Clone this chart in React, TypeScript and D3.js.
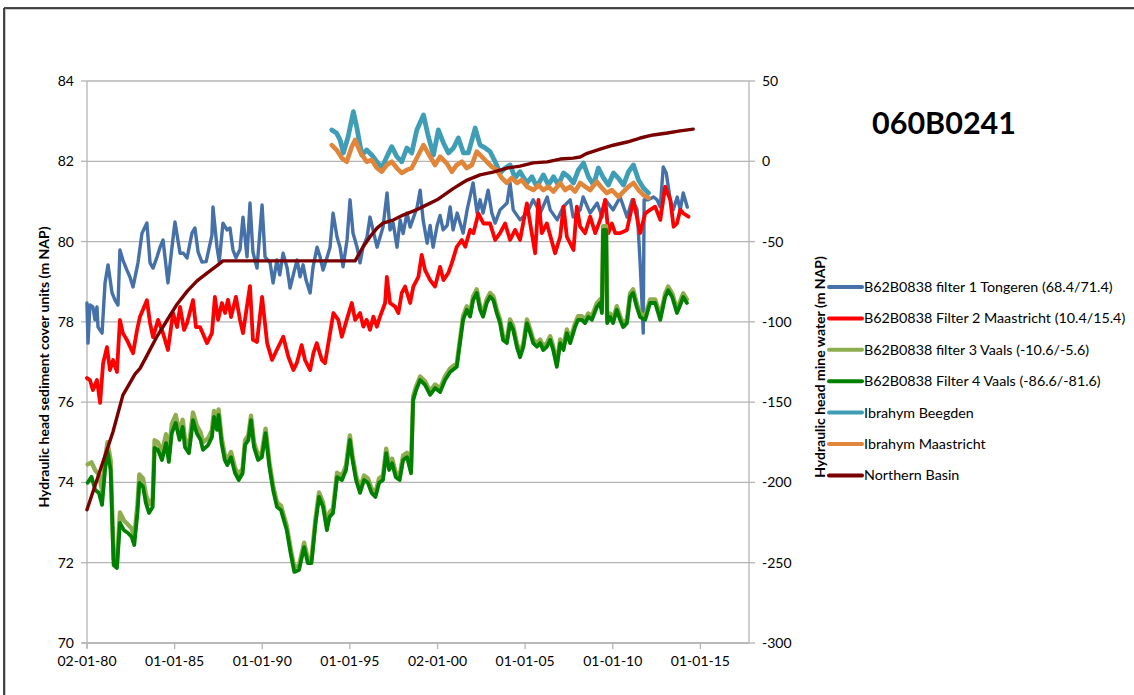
import React from "react";
import * as d3 from "d3";

// ---------- data (decimal year, value) ----------
const xTickDates = ["1980-01-02", "1985-01-01", "1990-01-01", "1995-01-01", "2000-01-02", "2005-01-01", "2010-01-01", "2015-01-01"];
const xTickLabels = ["02-01-80", "01-01-85", "01-01-90", "01-01-95", "02-01-00", "01-01-05", "01-01-10", "01-01-15"];
const leftTicks = [70, 72, 74, 76, 78, 80, 82, 84];
const rightTicks = [-300, -250, -200, -150, -100, -50, 0, 50];

const seriesNames = [
  "B62B0838 filter 1 Tongeren (68.4/71.4)",
  "B62B0838 Filter 2 Maastricht (10.4/15.4)",
  "B62B0838 filter 3 Vaals (-10.6/-5.6)",
  "B62B0838 Filter 4 Vaals (-86.6/-81.6)",
  "Ibrahym Beegden",
  "Ibrahym Maastricht",
  "Northern Basin",
];

const filter1: [number, number][] = [
  [1980.0, 78.47], [1980.06, 77.47], [1980.17, 78.42], [1980.34, 78.37], [1980.46, 78.05], [1980.57, 78.37], [1980.63, 77.87], [1980.86, 77.72],
  [1981.03, 78.97], [1981.2, 79.42], [1981.43, 78.72], [1981.6, 78.54], [1981.77, 78.42], [1981.88, 79.79], [1982.05, 79.54], [1982.28, 79.29],
  [1982.45, 79.12], [1982.63, 78.87], [1982.91, 79.47], [1983.14, 80.21], [1983.42, 80.46], [1983.6, 79.47], [1983.77, 79.34], [1984.0, 79.62],
  [1984.17, 79.86], [1984.34, 80.04], [1984.62, 78.97], [1984.85, 79.86], [1985.02, 80.49], [1985.31, 79.71], [1985.5, 79.71], [1985.71, 79.59],
  [1985.99, 80.21], [1986.16, 80.34], [1986.34, 79.74], [1986.56, 79.49], [1986.8, 79.5], [1987.13, 80.16], [1987.19, 80.86], [1987.42, 79.86],
  [1987.55, 79.5], [1987.76, 80.46], [1987.99, 80.29], [1988.16, 80.34], [1988.33, 79.79], [1988.5, 79.6], [1988.73, 79.8], [1988.9, 80.61],
  [1989.13, 79.62], [1989.3, 80.96], [1989.47, 79.74], [1989.7, 79.34], [1989.99, 80.91], [1990.16, 79.62], [1990.45, 79.47], [1990.62, 78.97],
  [1990.84, 79.54], [1991.0, 79.17], [1991.19, 79.71], [1991.42, 79.34], [1991.59, 78.84], [1991.8, 79.22], [1991.99, 79.54], [1992.16, 79.12],
  [1992.33, 79.42], [1992.5, 79.04], [1992.73, 78.72], [1992.9, 79.37], [1993.13, 79.86], [1993.3, 79.62], [1993.47, 79.29], [1993.65, 79.54],
  [1993.87, 79.86], [1994.04, 80.71], [1994.27, 80.11], [1994.44, 79.86], [1994.61, 79.37], [1994.84, 80.04], [1995.01, 81.04], [1995.18, 80.21],
  [1995.41, 79.86], [1995.58, 79.47], [1995.75, 79.86], [1995.98, 80.11], [1996.15, 80.61], [1996.32, 80.29], [1996.55, 79.86], [1996.72, 80.11],
  [1996.89, 80.36], [1997.12, 81.21], [1997.29, 80.29], [1997.47, 80.46], [1997.69, 79.86], [1997.87, 80.54], [1998.04, 80.2], [1998.26, 80.71],
  [1998.44, 80.36], [1998.84, 80.86], [1999.01, 81.28], [1999.18, 80.54], [1999.41, 79.96], [1999.58, 80.4], [1999.75, 79.86], [1999.98, 80.4],
  [2000.15, 80.65], [2000.32, 80.29], [2000.55, 80.4], [2000.72, 80.86], [2000.89, 80.29], [2001.12, 80.71], [2001.46, 80.21], [2001.69, 80.79],
  [2002.03, 81.46], [2002.26, 80.71], [2002.43, 81.04], [2002.6, 80.71], [2002.89, 81.28], [2003.1, 80.71], [2003.29, 80.46], [2003.57, 80.79],
  [2003.97, 80.96], [2004.14, 81.46], [2004.32, 80.79], [2004.71, 80.54], [2005.11, 80.71], [2005.46, 81.04], [2005.86, 80.71], [2006.26, 81.11],
  [2006.43, 80.79], [2006.83, 80.54], [2007.17, 80.86], [2007.57, 81.04], [2007.74, 80.61], [2008.14, 80.79], [2008.31, 81.11], [2008.71, 80.71],
  [2009.11, 80.96], [2009.39, 80.61], [2009.57, 81.04], [2010.02, 80.79], [2010.42, 81.11], [2010.82, 80.61], [2011.11, 81.04], [2011.39, 80.79],
  [2011.56, 79.49], [2011.68, 78.37], [2011.74, 77.72], [2011.79, 81.04], [2012.02, 81.04], [2012.33, 81.11], [2012.53, 81.04], [2012.71, 80.86],
  [2012.88, 81.86], [2013.05, 81.71], [2013.28, 81.04], [2013.45, 80.79], [2013.68, 81.11], [2013.85, 80.79], [2014.02, 81.21], [2014.25, 80.86],
];

const filter2: [number, number][] = [
  [1980.0, 76.6], [1980.17, 76.55], [1980.34, 76.3], [1980.57, 76.55], [1980.75, 75.98], [1980.92, 76.97], [1981.14, 77.37], [1981.31, 76.8],
  [1981.49, 77.05], [1981.71, 76.75], [1981.88, 78.05], [1982.05, 77.72], [1982.28, 77.55], [1982.63, 77.22], [1982.86, 77.8], [1983.02, 78.12],
  [1983.42, 78.54], [1983.6, 77.97], [1983.77, 77.62], [1984.06, 78.05], [1984.34, 77.72], [1984.62, 77.3], [1984.91, 78.22], [1985.14, 77.87],
  [1985.31, 78.37], [1985.54, 77.8], [1985.71, 77.97], [1986.05, 78.54], [1986.22, 77.87], [1986.45, 77.87], [1986.85, 77.47], [1987.13, 77.72],
  [1987.3, 78.62], [1987.48, 78.05], [1987.7, 78.47], [1987.88, 78.22], [1988.05, 78.55], [1988.22, 78.12], [1988.5, 78.62], [1988.73, 78.05],
  [1988.9, 77.72], [1989.3, 78.89], [1989.47, 77.55], [1989.7, 77.5], [1989.99, 78.62], [1990.28, 77.47], [1990.56, 77.05], [1990.83, 77.3],
  [1991.2, 77.63], [1991.49, 77.13], [1991.78, 76.8], [1991.97, 76.97], [1992.25, 77.42], [1992.44, 77.05], [1992.73, 76.8], [1992.92, 77.22],
  [1993.11, 77.47], [1993.4, 77.05], [1993.58, 76.97], [1993.87, 77.72], [1994.06, 78.22], [1994.34, 78.05], [1994.54, 77.63], [1994.82, 78.05],
  [1995.11, 78.47], [1995.3, 78.05], [1995.58, 78.22], [1995.77, 77.88], [1995.96, 78.05], [1996.15, 77.8], [1996.34, 78.13], [1996.54, 77.88],
  [1996.72, 78.13], [1997.01, 78.47], [1997.11, 79.12], [1997.29, 78.47], [1997.58, 78.38], [1997.77, 78.22], [1997.96, 78.72], [1998.15, 78.88],
  [1998.44, 78.47], [1998.62, 78.88], [1998.91, 79.12], [1999.1, 79.67], [1999.29, 79.29], [1999.58, 79.04], [1999.86, 78.88], [2000.15, 79.37],
  [2000.34, 79.04], [2000.62, 79.22], [2000.82, 79.47], [2001.1, 79.87], [2001.39, 80.04], [2001.58, 79.87], [2001.86, 80.29], [2002.05, 80.21],
  [2002.33, 80.7], [2002.62, 80.45], [2003.0, 80.45], [2003.29, 80.04], [2003.57, 80.21], [2003.86, 80.45], [2004.14, 80.04], [2004.43, 80.29],
  [2004.71, 80.04], [2005.1, 80.95], [2005.38, 80.21], [2005.57, 79.71], [2005.76, 81.04], [2005.95, 80.21], [2006.24, 80.45], [2006.71, 79.71],
  [2007.0, 80.12], [2007.19, 80.87], [2007.38, 80.12], [2007.76, 79.79], [2007.95, 80.87], [2008.14, 80.37], [2008.42, 80.21], [2008.71, 80.62],
  [2009.0, 80.21], [2009.28, 80.54], [2009.57, 81.04], [2009.75, 80.21], [2009.95, 80.45], [2010.14, 80.21], [2010.42, 80.21], [2010.81, 80.29],
  [2011.18, 81.04], [2011.37, 80.62], [2011.56, 80.21], [2011.85, 80.7], [2012.13, 80.79], [2012.42, 80.87], [2012.71, 80.54], [2012.99, 81.37],
  [2013.28, 81.04], [2013.47, 80.37], [2013.66, 80.45], [2013.85, 80.79], [2014.04, 80.7], [2014.32, 80.62],
];

const filter3: [number, number][] = [
  [1980.04, 74.45], [1980.26, 74.5], [1980.47, 74.3], [1980.68, 74.2], [1980.86, 73.8], [1981.03, 74.6], [1981.17, 75.0], [1981.35, 74.55],
  [1981.52, 72.1], [1981.71, 72.0], [1981.88, 73.25], [1982.11, 73.05], [1982.34, 72.95], [1982.55, 72.85], [1982.7, 72.65], [1982.88, 73.45],
  [1982.99, 74.2], [1983.2, 74.1], [1983.36, 73.7], [1983.54, 73.45], [1983.75, 73.6], [1983.86, 75.05], [1984.05, 75.0], [1984.28, 74.75],
  [1984.51, 75.2], [1984.67, 74.7], [1984.84, 75.45], [1985.06, 75.68], [1985.28, 75.25], [1985.46, 75.56], [1985.59, 75.08], [1985.82, 74.92],
  [1986.05, 75.74], [1986.26, 75.42], [1986.48, 75.25], [1986.62, 75.0], [1986.91, 75.1], [1987.13, 75.3], [1987.25, 75.78], [1987.42, 75.46],
  [1987.51, 75.82], [1987.68, 75.12], [1987.86, 74.7], [1988.01, 74.56], [1988.22, 74.76], [1988.45, 74.36], [1988.66, 74.18], [1988.88, 74.35],
  [1989.02, 75.05], [1989.21, 75.18], [1989.36, 75.66], [1989.53, 75.0], [1989.76, 74.68], [1989.98, 74.75], [1990.19, 75.34], [1990.41, 74.5],
  [1990.62, 73.92], [1990.84, 73.5], [1991.07, 73.42], [1991.4, 72.92], [1991.62, 72.35], [1991.83, 71.88], [1992.1, 71.93], [1992.39, 72.5],
  [1992.6, 72.1], [1992.81, 72.1], [1993.04, 73.1], [1993.24, 73.75], [1993.47, 73.5], [1993.69, 72.92], [1993.84, 73.25], [1994.04, 73.35],
  [1994.27, 74.24], [1994.55, 74.17], [1994.78, 74.42], [1995.0, 75.17], [1995.15, 74.67], [1995.35, 74.17], [1995.58, 73.85], [1995.81, 74.17],
  [1996.03, 74.1], [1996.24, 73.85], [1996.46, 73.75], [1996.67, 74.1], [1996.89, 74.17], [1997.07, 74.84], [1997.24, 74.42], [1997.41, 74.59],
  [1997.62, 74.24], [1997.84, 74.17], [1998.04, 74.67], [1998.26, 74.74], [1998.49, 74.34], [1998.61, 76.14], [1998.78, 76.39], [1999.01, 76.64],
  [1999.29, 76.52], [1999.58, 76.27], [1999.86, 76.44], [2000.15, 76.34], [2000.43, 76.64], [2000.72, 76.84], [2001.1, 76.97], [2001.46, 78.14],
  [2001.67, 78.39], [2001.86, 78.22], [2002.03, 78.63], [2002.24, 78.81], [2002.43, 78.39], [2002.6, 78.22], [2002.81, 78.56], [2003.0, 78.72],
  [2003.19, 78.63], [2003.38, 78.31], [2003.57, 78.06], [2003.74, 77.64], [2003.96, 77.56], [2004.14, 78.06], [2004.32, 77.89], [2004.53, 77.46],
  [2004.71, 77.21], [2004.9, 77.47], [2005.1, 78.06], [2005.29, 77.81], [2005.46, 77.56], [2005.67, 77.47], [2005.86, 77.56], [2006.03, 77.39],
  [2006.24, 77.47], [2006.43, 77.64], [2006.6, 77.39], [2006.81, 76.97], [2007.0, 77.56], [2007.19, 77.39], [2007.38, 77.81], [2007.57, 77.56],
  [2007.85, 77.96], [2008.02, 78.14], [2008.24, 78.14], [2008.42, 78.06], [2008.6, 78.21], [2008.81, 78.14], [2009.09, 78.46], [2009.28, 78.56],
  [2009.38, 78.31], [2009.45, 80.38], [2009.62, 80.38], [2009.68, 78.06], [2009.85, 78.21], [2010.02, 78.06], [2010.23, 78.39], [2010.42, 78.14],
  [2010.59, 77.96], [2010.81, 78.06], [2010.99, 78.71], [2011.16, 78.81], [2011.37, 78.46], [2011.56, 78.21], [2011.85, 78.14], [2012.13, 78.56],
  [2012.42, 78.56], [2012.71, 78.14], [2012.99, 78.71], [2013.16, 78.88], [2013.39, 78.71], [2013.66, 78.31], [2013.85, 78.51], [2014.02, 78.71],
  [2014.23, 78.56],
];

const filter4: [number, number][] = [
  [1980.04, 73.99], [1980.26, 74.14], [1980.47, 73.81], [1980.68, 73.74], [1980.86, 73.44], [1981.03, 74.31], [1981.17, 74.77], [1981.35, 74.31],
  [1981.52, 71.94], [1981.71, 71.87], [1981.88, 72.99], [1982.11, 72.81], [1982.34, 72.74], [1982.55, 72.64], [1982.7, 72.44], [1982.88, 73.24],
  [1982.99, 73.99], [1983.2, 73.89], [1983.36, 73.49], [1983.54, 73.24], [1983.75, 73.39], [1983.86, 74.86], [1984.05, 74.81], [1984.28, 74.56],
  [1984.51, 74.98], [1984.67, 74.51], [1984.84, 75.23], [1985.06, 75.48], [1985.28, 75.06], [1985.46, 75.38], [1985.59, 74.88], [1985.82, 74.73],
  [1986.05, 75.55], [1986.26, 75.23], [1986.48, 75.06], [1986.62, 74.81], [1986.91, 74.93], [1987.13, 75.13], [1987.25, 75.63], [1987.42, 75.31],
  [1987.51, 75.68], [1987.68, 74.98], [1987.86, 74.56], [1988.01, 74.43], [1988.22, 74.63], [1988.45, 74.23], [1988.66, 74.06], [1988.88, 74.23],
  [1989.02, 74.93], [1989.21, 75.06], [1989.36, 75.55], [1989.53, 74.88], [1989.76, 74.56], [1989.98, 74.63], [1990.19, 75.23], [1990.41, 74.38],
  [1990.62, 73.81], [1990.84, 73.39], [1991.07, 73.31], [1991.4, 72.81], [1991.62, 72.24], [1991.83, 71.77], [1992.1, 71.82], [1992.39, 72.39],
  [1992.6, 71.99], [1992.81, 71.99], [1993.04, 72.99], [1993.24, 73.64], [1993.47, 73.39], [1993.69, 72.81], [1993.84, 73.14], [1994.04, 73.24],
  [1994.27, 74.13], [1994.55, 74.06], [1994.78, 74.31], [1995.0, 75.06], [1995.15, 74.56], [1995.35, 74.06], [1995.58, 73.74], [1995.81, 74.06],
  [1996.03, 73.99], [1996.24, 73.74], [1996.46, 73.64], [1996.67, 73.99], [1996.89, 74.06], [1997.07, 74.73], [1997.24, 74.31], [1997.41, 74.48],
  [1997.62, 74.13], [1997.84, 74.06], [1998.04, 74.56], [1998.26, 74.63], [1998.49, 74.23], [1998.61, 76.05], [1998.78, 76.3], [1999.01, 76.55],
  [1999.29, 76.43], [1999.58, 76.18], [1999.86, 76.35], [2000.15, 76.25], [2000.43, 76.55], [2000.72, 76.75], [2001.1, 76.88], [2001.46, 78.05],
  [2001.67, 78.3], [2001.86, 78.13], [2002.03, 78.54], [2002.24, 78.72], [2002.43, 78.3], [2002.6, 78.13], [2002.81, 78.47], [2003.0, 78.63],
  [2003.19, 78.54], [2003.38, 78.22], [2003.57, 77.97], [2003.74, 77.55], [2003.96, 77.47], [2004.14, 77.97], [2004.32, 77.8], [2004.53, 77.37],
  [2004.71, 77.12], [2004.9, 77.38], [2005.1, 77.97], [2005.29, 77.72], [2005.46, 77.47], [2005.67, 77.38], [2005.86, 77.47], [2006.03, 77.3],
  [2006.24, 77.38], [2006.43, 77.55], [2006.6, 77.3], [2006.81, 76.88], [2007.0, 77.47], [2007.19, 77.3], [2007.38, 77.72], [2007.57, 77.47],
  [2007.85, 77.87], [2008.02, 78.05], [2008.24, 78.05], [2008.42, 77.97], [2008.6, 78.12], [2008.81, 78.05], [2009.09, 78.37], [2009.28, 78.47],
  [2009.38, 78.22], [2009.45, 80.29], [2009.62, 80.29], [2009.68, 77.97], [2009.85, 78.12], [2010.02, 77.97], [2010.23, 78.3], [2010.42, 78.05],
  [2010.59, 77.87], [2010.81, 77.97], [2010.99, 78.62], [2011.16, 78.72], [2011.37, 78.37], [2011.56, 78.12], [2011.85, 78.05], [2012.13, 78.47],
  [2012.42, 78.47], [2012.71, 78.05], [2012.99, 78.62], [2013.16, 78.79], [2013.39, 78.62], [2013.66, 78.22], [2013.85, 78.42], [2014.02, 78.62],
  [2014.23, 78.47],
];

const beegden: [number, number][] = [
  [1993.97, 19.5], [1994.25, 17.4], [1994.44, 13.3], [1994.63, 5.2], [1994.9, 15.3], [1995.2, 30.9], [1995.39, 21.5], [1995.68, 3.9],
  [1995.96, 7.0], [1996.25, 3.9], [1996.54, -0.3], [1996.82, -4.2], [1997.11, 2.9], [1997.39, 9.1], [1997.68, 2.9], [1997.96, -0.3],
  [1998.25, 8.3], [1998.53, 5.2], [1998.82, 19.5], [1999.2, 28.8], [1999.48, 15.3], [1999.77, 3.9], [2000.05, 19.5], [2000.34, 11.4],
  [2000.62, 5.2], [2000.91, 8.3], [2001.19, 14.5], [2001.48, 5.2], [2001.76, 5.2], [2002.15, 20.7], [2002.43, 10.1], [2002.72, 8.3],
  [2003.0, 6.0], [2003.29, -0.3], [2003.57, -7.3], [2003.86, -4.2], [2004.14, -2.3], [2004.43, -10.4], [2004.71, -6.5], [2005.1, -13.5],
  [2005.38, -9.6], [2005.67, -15.8], [2006.04, -8.5], [2006.33, -14.8], [2006.62, -9.6], [2006.9, -14.8], [2007.19, -7.3], [2007.47, -9.6],
  [2007.76, -13.5], [2008.04, -5.4], [2008.33, -1.1], [2008.61, -9.6], [2008.9, -14.8], [2009.18, -4.2], [2009.47, -10.4], [2009.75, -14.8],
  [2010.04, -7.3], [2010.33, -10.6], [2010.61, -14.8], [2010.9, -6.5], [2011.18, -2.3], [2011.47, -11.7], [2011.75, -16.6], [2012.04, -19.8],
];

const ibMaastricht: [number, number][] = [
  [1993.97, 10.1], [1994.25, 7.0], [1994.54, 2.0], [1994.82, -0.3], [1995.11, 9.1], [1995.3, 13.3], [1995.58, 6.0], [1995.96, -0.3],
  [1996.25, 0.8], [1996.54, -4.2], [1996.82, -6.5], [1997.11, -2.3], [1997.39, -0.3], [1997.68, -4.2], [1997.96, -7.3], [1998.25, -5.4],
  [1998.53, -4.2], [1998.82, 2.0], [1999.2, 10.1], [1999.58, 2.9], [1999.86, -2.3], [2000.15, 2.9], [2000.53, -1.3], [2000.82, -6.5],
  [2001.1, -2.3], [2001.39, -0.3], [2001.67, -4.2], [2001.96, -2.3], [2002.24, 6.0], [2002.53, 2.9], [2002.81, -0.3], [2003.1, -3.4],
  [2003.38, -5.4], [2003.67, -10.4], [2003.96, -13.5], [2004.24, -10.4], [2004.53, -13.5], [2004.81, -11.7], [2005.1, -15.8], [2005.47, -17.9],
  [2005.76, -14.8], [2006.04, -17.9], [2006.33, -15.8], [2006.62, -18.9], [2007.0, -13.5], [2007.28, -17.9], [2007.57, -15.8], [2007.85, -18.9],
  [2008.14, -13.5], [2008.42, -15.8], [2008.71, -17.9], [2009.09, -12.7], [2009.38, -16.6], [2009.66, -19.8], [2009.95, -17.9], [2010.33, -22.1],
  [2010.61, -18.9], [2010.9, -15.8], [2011.18, -13.5], [2011.47, -17.9], [2011.75, -21.0], [2012.04, -22.9],
];

const northernBasin: [number, number][] = [
  [1980.0, -217], [1981.48, -168.6], [1982.05, -145.6], [1982.74, -132.5], [1983.03, -129], [1983.42, -121], [1984.0, -109], [1984.57, -99],
  [1985.14, -89], [1985.71, -81], [1986.28, -74.5], [1986.85, -69.6], [1987.42, -65], [1987.76, -62], [1995.3, -62], [1995.75, -53.4],
  [1996.15, -47], [1996.55, -41.6], [1996.89, -38.5], [1997.47, -36.6], [1998.04, -33.5], [1998.84, -30], [1999.41, -27], [1999.98, -24],
  [2000.89, -17], [2001.69, -11.7], [2002.43, -8.5], [2003.17, -6.7], [2003.97, -4.2], [2004.71, -3], [2005.46, -1], [2006.26, -0.4],
  [2007.0, 1.4], [2007.74, 2], [2008.14, 2.7], [2008.54, 5], [2009.28, 7.6], [2010.02, 10], [2010.82, 12], [2011.56, 14.5],
  [2012.31, 16.4], [2013.11, 17.6], [2013.85, 18.9], [2014.59, 20],
];

// ---------- chart ----------
const W = 1134;
const H = 695;
const FONT = "Lato, 'Open Sans', sans-serif";

const toDate = (y: number) => {
  const yr = Math.floor(y);
  const s = Date.UTC(yr, 0, 1);
  const e = Date.UTC(yr + 1, 0, 1);
  return new Date(s + (y - yr) * (e - s));
};

const x = d3.scaleUtc().domain([new Date(Date.UTC(1980, 0, 2)), new Date(Date.UTC(2017, 9, 10))]).range([87, 749]);
const yL = d3.scaleLinear().domain([70, 84]).range([643, 81]);
const yR = d3.scaleLinear().domain([-300, 50]).range([643, 81]);

const lineL = d3.line<[number, number]>().x((d) => x(toDate(d[0]))).y((d) => yL(d[1]));
const lineR = d3.line<[number, number]>().x((d) => x(toDate(d[0]))).y((d) => yR(d[1]));

const series = [
  { name: seriesNames[0], data: filter1, axis: "L", color: "#4570A8", width: 3.4 },
  { name: seriesNames[1], data: filter2, axis: "L", color: "#FF0000", width: 3.8 },
  { name: seriesNames[2], data: filter3, axis: "L", color: "#8EAD4E", width: 4.4 },
  { name: seriesNames[3], data: filter4, axis: "L", color: "#008000", width: 3.8 },
  { name: seriesNames[4], data: beegden, axis: "R", color: "#3F9DB5", width: 4.8 },
  { name: seriesNames[5], data: ibMaastricht, axis: "R", color: "#E0853A", width: 4.6 },
  { name: seriesNames[6], data: northernBasin, axis: "R", color: "#7A0000", width: 3.4 },
];

export default function App() {
  const gridColor = "#B4B4B4";
  return (
    <svg width={W} height={H} style={{ position: "absolute", left: 0, top: 0, background: "#fff" }} fontFamily={FONT}>
      {/* frame */}
      <line x1={4} x2={W} y1={9} y2={9} stroke="#999" strokeWidth={1} />
      <line x1={4} x2={W} y1={8} y2={8} stroke="#111" strokeWidth={1.5} />
      <line x1={5} x2={5} y1={8} y2={H} stroke="#999" strokeWidth={1} />
      <line x1={4} x2={4} y1={8} y2={H} stroke="#111" strokeWidth={1.5} />

      {/* gridlines */}
      {leftTicks.map((t) => (
        <line key={"g" + t} x1={87} x2={749} y1={yL(t)} y2={yL(t)} stroke={gridColor} strokeWidth={1.3} />
      ))}
      {/* axes */}
      <line x1={87} x2={87} y1={81} y2={648} stroke={gridColor} strokeWidth={1.3} />
      <line x1={749} x2={749} y1={81} y2={643} stroke={gridColor} strokeWidth={1.3} />
      <line x1={82} x2={749} y1={643} y2={643} stroke={gridColor} strokeWidth={1.3} />
      {leftTicks.map((t) => (
        <g key={"l" + t}>
          <line x1={81} x2={87} y1={yL(t)} y2={yL(t)} stroke={gridColor} strokeWidth={1.3} />
          <text x={74} y={yL(t) + 5} fontSize={14} textAnchor="end" fill="#000">{t}</text>
        </g>
      ))}
      {rightTicks.map((t) => (
        <g key={"r" + t}>
          <line x1={749} x2={755} y1={yR(t)} y2={yR(t)} stroke={gridColor} strokeWidth={1.3} />
          <text x={762} y={yR(t) + 5} fontSize={14} textAnchor="start" fill="#000">{t}</text>
        </g>
      ))}
      {xTickDates.map((d, i) => {
        const xp = x(new Date(d + "T00:00:00Z"));
        return (
          <g key={d}>
            <line x1={xp} x2={xp} y1={643} y2={649} stroke={gridColor} strokeWidth={1.3} />
            <text x={xp} y={666} fontSize={14} textAnchor="middle" fill="#000">{xTickLabels[i]}</text>
          </g>
        );
      })}

      {/* axis titles */}
      <text transform="translate(49,367) rotate(-90)" fontSize={14} fontWeight="bold" textAnchor="middle">
        Hydraulic head sediment cover units (m NAP)
      </text>
      <text transform="translate(825,367) rotate(-90)" fontSize={14} fontWeight="bold" textAnchor="middle">
        Hydraulic head mine water (m NAP)
      </text>

      {/* series */}
      {series.map((s) => (
        <path
          key={s.name}
          d={(s.axis === "L" ? lineL : lineR)(s.data) || ""}
          fill="none"
          stroke={s.color}
          strokeWidth={s.width}
          strokeLinejoin="round"
          strokeLinecap="round"
        />
      ))}

      {/* title */}
      <text x={944} y={134} fontSize={30.5} fontWeight="bold" textAnchor="middle">060B0241</text>

      {/* legend */}
      {series.map((s, i) => {
        const ly = 287 + i * 31.4;
        return (
          <g key={"lg" + i}>
            <line x1={829} x2={862} y1={ly} y2={ly} stroke={s.color} strokeWidth={4} strokeLinecap="round" />
            <text x={864} y={ly + 5} fontSize={14.3} fill="#000">{s.name}</text>
          </g>
        );
      })}
    </svg>
  );
}
